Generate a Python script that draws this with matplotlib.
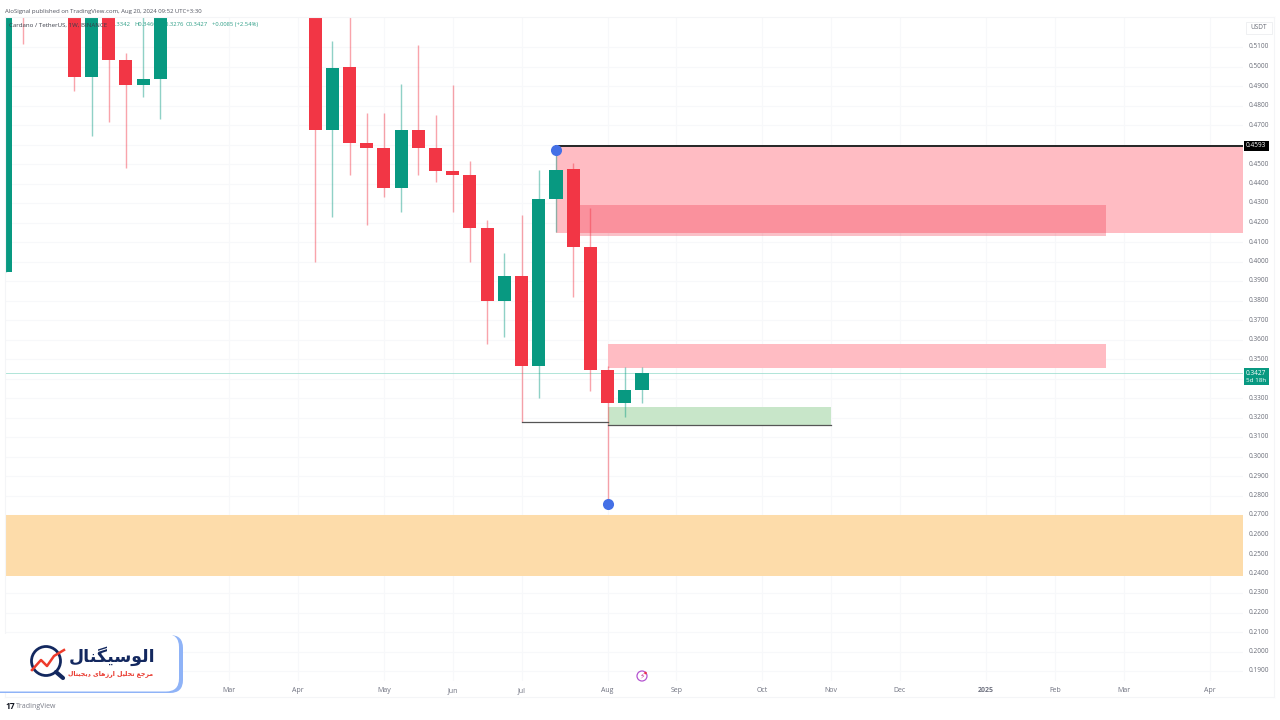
import matplotlib
matplotlib.use("Agg")
import matplotlib.pyplot as plt
from matplotlib.patches import Rectangle, FancyBboxPatch, Circle

# ---- data (weekly candles, x = weeks relative to the last bar) ----
weeks  = [-37, -36, -33, -32, -31, -30, -29, -28, -19, -18, -17, -16, -15, -14, -13, -12,
          -11, -10, -9, -8, -7, -6, -5, -4, -3, -2, -1, 0]
opens  = [0.3946, 0.5400, 0.5400, 0.4946, 0.5400, 0.5033, 0.4904, 0.4934, 0.5400, 0.4674,
          0.4999, 0.4606, 0.4581, 0.4378, 0.4674, 0.4584, 0.4466, 0.4442, 0.4170, 0.3799,
          0.3926, 0.3466, 0.4319, 0.4473, 0.4074, 0.3442, 0.3274, 0.3342]
closes = [0.5400, 0.5300, 0.4946, 0.5400, 0.5033, 0.4904, 0.4936, 0.5400, 0.4674, 0.4994,
          0.4606, 0.4581, 0.4378, 0.4674, 0.4584, 0.4466, 0.4442, 0.4170, 0.3799, 0.3926,
          0.3466, 0.4319, 0.4469, 0.4074, 0.3442, 0.3274, 0.3339, 0.3427]
highs  = [0.5500, 0.5500, 0.5500, 0.5500, 0.5500, 0.5068, 0.5500, 0.5500, 0.5500, 0.5131,
          0.5300, 0.4762, 0.4762, 0.4909, 0.5110, 0.4751, 0.4905, 0.4515, 0.4213, 0.4042,
          0.4238, 0.4469, 0.4593, 0.4504, 0.4273, 0.3463, 0.3459, 0.3460]
lows   = [0.3946, 0.5115, 0.4876, 0.4645, 0.4714, 0.4481, 0.4842, 0.4729, 0.3997, 0.4230,
          0.4444, 0.4187, 0.4332, 0.4255, 0.4444, 0.4406, 0.4255, 0.3999, 0.3577, 0.3614,
          0.3175, 0.3302, 0.4150, 0.3820, 0.3336, 0.2756, 0.3204, 0.3276]

price_ticks = [0.51, 0.50, 0.49, 0.48, 0.47, 0.45, 0.44, 0.43, 0.42, 0.41, 0.40, 0.39, 0.38,
               0.37, 0.36, 0.35, 0.33, 0.32, 0.31, 0.30, 0.29, 0.28, 0.27, 0.26, 0.25, 0.24,
               0.23, 0.22, 0.21, 0.20, 0.19]
grid_prices = [0.51 - i * 0.01 for i in range(33)]
month_pos    = [-24, -20, -15, -11, -7, -2, 2, 7, 11, 15, 20, 24, 28, 33]
month_labels = ["Mar", "Apr", "May", "Jun", "Jul", "Aug", "Sep", "Oct", "Nov", "Dec",
                "2025", "Feb", "Mar", "Apr"]

high_price = 0.4593
last_price = 0.3427
# zones: (week start, week end, price low, price high, colour, alpha)
zones = [
    (-5, 35, 0.4146, 0.4587, "#ffbcc3", 1.0),
    (-4, 27, 0.4131, 0.4290, "#f03046", 0.30),
    (-2, 27, 0.3454, 0.3577, "#ffbcc3", 1.0),
    (-2, 11, 0.3160, 0.3255, "#c8e6c9", 1.0),
    (-38, 35, 0.2387, 0.2700, "#fddcaa", 1.0),
]
swing_lines = [(-7, -2, 0.3175), (-2, 11, 0.3160)]
dots = [(-5, 0.4570), (-2, 0.2756)]

legend_values = ["O0.3342", "H0.3460", "L0.3276", "C0.3427", "+0.0085 (+2.54%)"]

# Persian text stored in joined shaping forms, logical order
logo_title = "\uFE8D\uFEDF\uFEEE\uFEB3\uFBFF\uFB95\uFEE8\uFE8E\uFEDD"
logo_sub = ("\uFEE3\uFEAE\uFE9F\uFECA \uFE97\uFEA4\uFEE0\uFBFF\uFEDE "
            "\uFE8D\uFEAD\uFEAF\uFEEB\uFE8E\uFBFC "
            "\uFEA9\uFBFE\uFEA0\uFBFF\uFE98\uFE8E\uFEDD")

UP, DOWN = "#089981", "#f23645"
W, H = 1280, 720
L, R, T, B = 5, 1243, 17, 681
GRID = "#f7f8fa"

fig = plt.figure(figsize=(W / 100, H / 100), dpi=100, facecolor="white")
plt.rcParams["font.family"] = ["Open Sans", "DejaVu Sans"]
ax = fig.add_axes([L / W, 1 - B / H, (R - L) / W, (B - T) / H])
ax.set_xlim(-37.03, 34.94)
ax.set_ylim(0.1849, 0.5254)
for s in ax.spines.values():
    s.set_visible(False)
ax.set_yticks([])
ax.set_xticks([])

for p in grid_prices:
    ax.axhline(p, color=GRID, lw=0.8, zorder=0)
for m, lab in zip(month_pos, month_labels):
    ax.axvline(m, color=GRID, lw=0.8, zorder=0)
    ax.annotate(lab, (m, 0), xycoords=("data", "axes fraction"), xytext=(0, -9.5),
                textcoords="offset pixels", ha="center", va="center", fontsize=5.0,
                color="#6f7280", annotation_clip=False, fontweight="bold" if lab == "2025" else "normal")

for x0, x1, lo, hi, c, a in zones:
    ax.add_patch(Rectangle((x0, lo), x1 - x0, hi - lo, fc=c, alpha=a, ec="none", zorder=1))

ax.axhline(last_price, color="#a4e0d2", lw=0.6, zorder=1.5)

# legend values sit behind the candles
for txt, px in zip(legend_values, [103, 129, 157, 181, 207]):
    ax.annotate(txt, (0, 1), xycoords="axes fraction", xytext=(px, -8),
                textcoords="offset pixels", fontsize=4.25, color="#2e9e86",
                va="center", ha="left", zorder=1.6)

for x, o, c, h, l in zip(weeks, opens, closes, highs, lows):
    col = UP if c >= o else DOWN
    ax.plot([x, x], [l, h], color=col, alpha=0.45, lw=1.0, zorder=2, solid_capstyle="butt")
    ax.add_patch(Rectangle((x - 0.38, min(o, c)), 0.76, abs(c - o), fc=col, ec="none", zorder=3))

ax.plot([-5, 35], [high_price, high_price], color="black", lw=1.2, zorder=4)
for x0, x1, p in swing_lines:
    ax.plot([x0, x1], [p, p], color="#555555", lw=0.9, zorder=4)
for x, p in dots:
    ax.plot([x], [p], "o", ms=8, color="#4470e6", mec="none", zorder=5)

ax.annotate("Cardano / TetherUS, 1W, BINANCE", (0, 1), xycoords="axes fraction", xytext=(4, -8),
            textcoords="offset pixels", fontsize=4.4, color="#3a3d48", va="center", ha="left", zorder=6)

# overlay in pixel coordinates for the chrome
ov = fig.add_axes([0, 0, 1, 1], facecolor="none")
ov.set_xlim(0, W)
ov.set_ylim(H, 0)
ov.axis("off")

BORDER = "#f4f5f7"
ov.plot([L, 1274], [T, T], color=BORDER, lw=0.8)
ov.plot([1274, 1274], [T, 697], color=BORDER, lw=0.8)
ov.plot([L, 1274], [697, 697], color=BORDER, lw=0.8)
ov.plot([L, L], [T, 697], color=BORDER, lw=0.8)

ov.text(5, 11.5, "AloSignal published on TradingView.com, Aug 20, 2024 09:52 UTC+3:30",
        fontsize=4.35, color="#50535e", va="center", ha="left")
ov.text(16, 706.5, "TradingView", fontsize=5.0, color="#7a7d88", va="center", ha="left")
ov.text(5, 706.5, "17", fontsize=6, color="#131722", va="center", ha="left", fontweight="bold")

for p in price_ticks:
    ov.text(1248.5, 47 + (0.51 - p) * 1950, f"{p:.4f}", fontsize=4.7, color="#6a6d78", va="center", ha="left")
ov.add_patch(Rectangle((1245.5, 22), 26, 11.5, fc="white", ec="#eceef0", lw=0.6))
ov.text(1258.5, 27.5, "USDT", fontsize=4.7, color="#6a6d78", va="center", ha="center")

ov.add_patch(Rectangle((1243.5, 141), 25, 9.5, fc="black", ec="none", zorder=5))
ov.text(1256, 145.8, "0.4593", fontsize=4.7, color="white", va="center", ha="center", zorder=6)
ov.add_patch(Rectangle((1243.5, 368), 25, 17, fc=UP, ec="none", zorder=5))
ov.text(1256, 373.5, "0.3427", fontsize=4.7, color="white", va="center", ha="center", zorder=6)
ov.text(1256, 380.5, "5d 18h", fontsize=4.5, color="white", va="center", ha="center", zorder=6)

# flash icon
ov.add_patch(Circle((642, 676), 5, fc="white", ec="#b455d0", lw=0.9, zorder=5))
ov.add_patch(Circle((645.5, 673), 1.3, fc="#f0304a", ec="none", zorder=6))
ov.text(642, 676, "\u26A1", fontsize=5.5, color="#c94aa0", va="center", ha="center", zorder=6,
        family=["DejaVu Sans"])

# logo card
ov.add_patch(FancyBboxPatch((-30, 635), 213, 58, boxstyle="round,pad=0,rounding_size=13",
                            fc="#8fb3f7", ec="none", zorder=7))
ov.add_patch(FancyBboxPatch((-30, 634), 209, 57.5, boxstyle="round,pad=0,rounding_size=13",
                            fc="white", ec="none", zorder=8))
ov.add_patch(Circle((46, 661), 14.5, fc="none", ec="#13285f", lw=2.0, zorder=9))
ov.plot([56, 63], [672, 678], color="#13285f", lw=3, zorder=9, solid_capstyle="round")
ov.plot([32, 41, 47, 54, 64], [670, 660, 666, 656, 650], color="#ee3b2b", lw=1.8, zorder=10)
ov.text(112, 656, logo_title[::-1], fontsize=12.5, color="#13285f", va="center", ha="center",
        fontweight="bold", zorder=10, family=["DejaVu Sans"])
ov.text(111, 674, logo_sub[::-1], fontsize=4.5, color="#e8352a", va="center", ha="center",
        fontweight="bold", zorder=10, family=["DejaVu Sans"])

fig.savefig("out.png", dpi=100, facecolor="white")
